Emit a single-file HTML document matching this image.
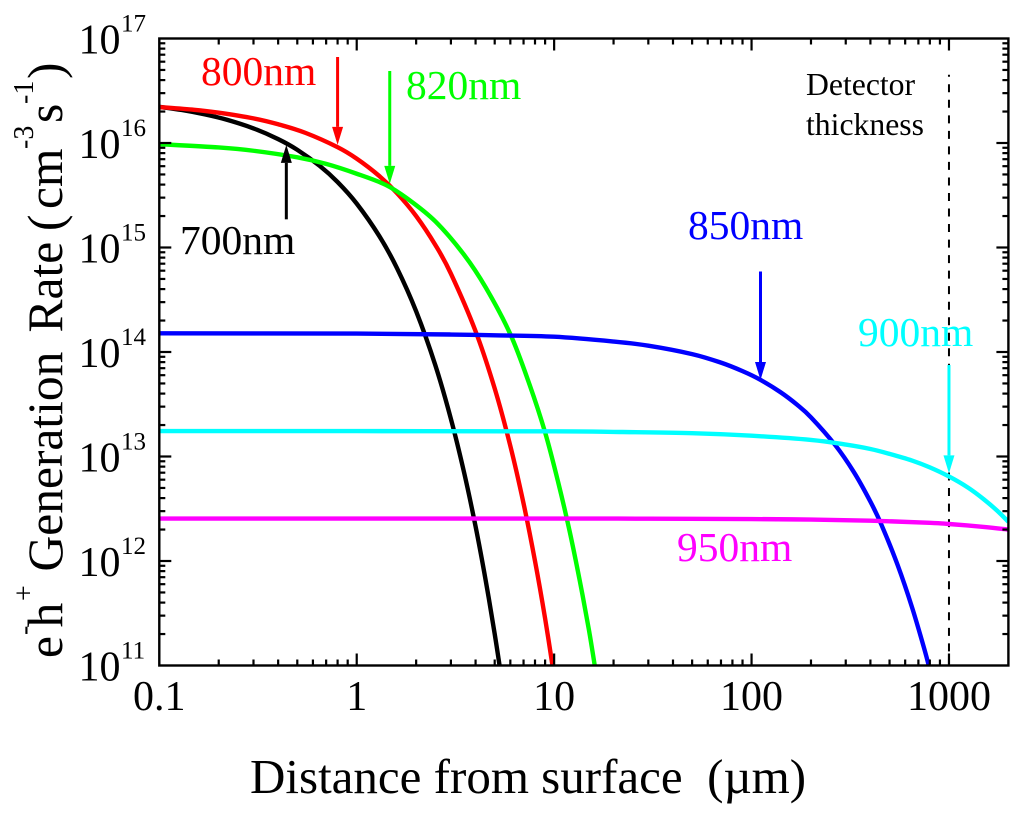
<!DOCTYPE html>
<html lang="en">
<head>
<meta charset="utf-8">
<title>e-h+ Generation Rate vs Distance from Surface</title>
<style>
html,body{margin:0;padding:0;background:#fff;}
svg{display:block;}
text{font-family:"Liberation Serif","DejaVu Serif",serif;fill:#000;}
</style>
</head>
<body>
<svg id="chart" xmlns="http://www.w3.org/2000/svg" width="1024" height="819" viewBox="0 0 1024 819">
  <rect x="0" y="0" width="1024" height="819" fill="#fff"/>
  <defs><clipPath id="plot-clip"><rect x="159.3" y="38.5" width="849.2" height="627"/></clipPath></defs>
  <g id="reference"></g>
  <g id="series" clip-path="url(#plot-clip)"></g>
  <g id="frame"></g>
  <g id="arrows"></g>
  <g id="labels"></g>

  <text x="250" y="793" font-size="49" xml:space="preserve">Distance from surface  (µm)</text>
  <text transform="translate(62,658) rotate(-90)" font-size="49.5" xml:space="preserve"><tspan x="0" y="0">e</tspan><tspan x="23" y="-29" font-size="28">-</tspan><tspan x="30.5" y="0">h</tspan><tspan x="57" y="-29" font-size="28">+</tspan><tspan x="86.5" y="0">Generation</tspan><tspan x="325.5" y="0">Rate</tspan><tspan x="427" y="0">(</tspan><tspan x="449" y="0">cm</tspan><tspan x="509" y="-29" font-size="28">-3</tspan><tspan x="535" y="0">s</tspan><tspan x="554" y="-29" font-size="28">-1</tspan><tspan x="579" y="0">)</tspan></text>

  <text x="201" y="85" font-size="41.5" style="fill:#ff0000">800nm</text>
  <text x="406" y="99" font-size="41.5" style="fill:#00ff00">820nm</text>
  <text x="180" y="254" font-size="41.5" style="fill:#000">700nm</text>
  <text x="688" y="239" font-size="41.5" style="fill:#0000ff">850nm</text>
  <text x="858" y="346" font-size="41.5" style="fill:#00ffff">900nm</text>
  <text x="677" y="561" font-size="41.5" style="fill:#ff00ff">950nm</text>
  <text x="806" y="95" font-size="31.7">Detector</text>
  <text x="806" y="135" font-size="31.7">thickness</text>
</svg>
<script>
// ---- chart data ----
const xTickValues = [0.1, 1, 10, 100, 1000];
const xTickLabels = ["0.1", "1", "10", "100", "1000"];
const yTickValues = [1e11, 1e12, 1e13, 1e14, 1e15, 1e16, 1e17];
const yTickExponents = ["11", "12", "13", "14", "15", "16", "17"];
const xDomain = [0.1, 2000];
const yDomain = [1e11, 1e17];

const x700 = [0.1,0.13,0.17,0.22,0.3,0.4,0.5,0.65,0.8,1,1.3,1.6,2,2.5,3,3.5,4,4.5,5,5.35];
const y700 = [2.22e16,2.07e16,1.88e16,1.67e16,1.38e16,1.09e16,8.61e15,6.03e15,4.23e15,2.63e15,1.29e15,6.34e14,2.45e14,7.5e13,2.29e13,7.0e12,2.14e12,6.53e11,2.0e11,8.7e10];

const x800 = [0.1,0.15,0.2,0.3,0.4,0.55,0.8,1,1.3,1.6,2,2.5,3,4,5,6,7,8,9,10];
const y800 = [2.21e16,2.08e16,1.95e16,1.72e16,1.51e16,1.25e16,9.12e15,7.08e15,4.84e15,3.31e15,2.0e15,1.06e15,5.62e14,1.58e14,4.47e13,1.26e13,3.55e12,1.0e12,2.82e11,7.9e10];

const x820 = [0.1,0.2,0.3,0.5,0.7,1,1.4,1.8,2.5,3.5,4.5,6,7.5,9,10.5,12,13.5,15,16.2];
const y820 = [9.75e15,9.06e15,8.43e15,7.29e15,6.31e15,5.08e15,3.98e15,2.95e15,1.78e15,8.5e14,4.15e14,1.48e14,4.9e13,1.7e13,5.6e12,1.9e12,6.4e11,2.2e11,9.0e10];

const x850 = [0.1,1,3,5,10,20,30,50,70,90,110,140,170,200,265,330,400,455,550,650,750,800];
const y850 = [1.51e14,1.5e14,1.47e14,1.445e14,1.4e14,1.26e14,1.15e14,9.55e13,7.91e13,6.56e13,5.46e13,4.13e13,3.13e13,2.37e13,1.29e13,7.08e12,3.7e12,2.22e12,9.1e11,3.6e11,1.44e11,9.1e10];

const x900 = [0.1,1,10,20,50,100,200,300,400,500,650,800,1000,1250,1500,1750,2000];
const y900 = [1.75e13,1.75e13,1.74e13,1.72e13,1.67e13,1.58e13,1.44e13,1.3e13,1.18e13,1.06e13,9.15e12,7.87e12,6.44e12,5.03e12,3.9e12,3.04e12,2.37e12];

const x950 = [0.1,1,10,30,100,200,400,800,1000,1500,2000];
const y950 = [2.55e12,2.55e12,2.55e12,2.54e12,2.52e12,2.49e12,2.43e12,2.32e12,2.26e12,2.12e12,2.0e12];

const detectorThickness = [1000];
const detectorTop = [4.5e16];

const arrow700 = [0.44, 1.86e15, 9.6e15];
const arrow800 = [0.8, 6.65e16, 9.6e15];
const arrow820 = [1.47, 4.89e16, 4.06e15];
const arrow850 = [111, 5.9e14, 5.4e13];
const arrow900 = [1000, 7.5e13, 6.9e12];

// ---- axis functions ----
const plotLeft = 159.3, plotRight = 1008.4, plotTop = 38.5, plotBottom = 665.5;
function sx(v) {
  return plotLeft + (Math.log10(v) - Math.log10(xDomain[0])) / (Math.log10(xDomain[1]) - Math.log10(xDomain[0])) * (plotRight - plotLeft);
}
function sy(v) {
  return plotBottom - (Math.log10(v) - Math.log10(yDomain[0])) / (Math.log10(yDomain[1]) - Math.log10(yDomain[0])) * (plotBottom - plotTop);
}
const NS = "http://www.w3.org/2000/svg";
function mk(tag, parent, attrs) {
  const el = document.createElementNS(NS, tag);
  for (const k in attrs) el.setAttribute(k, attrs[k]);
  parent.appendChild(el);
  return el;
}

// ---- series ----
function smoothPath(xs, ys) {
  const p = xs.map((x, i) => [sx(x), sy(ys[i])]);
  let d = "M" + p[0][0].toFixed(2) + " " + p[0][1].toFixed(2);
  for (let i = 0; i < p.length - 1; i++) {
    const a = p[Math.max(i - 1, 0)], b = p[i], c = p[i + 1], e = p[Math.min(i + 2, p.length - 1)];
    const c1x = b[0] + (c[0] - a[0]) / 6, c1y = b[1] + (c[1] - a[1]) / 6;
    const c2x = c[0] - (e[0] - b[0]) / 6, c2y = c[1] - (e[1] - b[1]) / 6;
    d += "C" + c1x.toFixed(2) + " " + c1y.toFixed(2) + " " + c2x.toFixed(2) + " " + c2y.toFixed(2) + " " + c[0].toFixed(2) + " " + c[1].toFixed(2);
  }
  return d;
}
const seriesLayer = document.getElementById("series");
function drawSeries(name, xs, ys, color) {
  const el = mk("path", seriesLayer, { d: smoothPath(xs, ys), fill: "none", stroke: color, "stroke-width": 4.4, "stroke-linejoin": "round" });
  
  
}
drawSeries("series-700nm", x700, y700, "#000000");
drawSeries("series-800nm", x800, y800, "#ff0000");
drawSeries("series-820nm", x820, y820, "#00ff00");
drawSeries("series-850nm", x850, y850, "#0000ff");
drawSeries("series-900nm", x900, y900, "#00ffff");
drawSeries("series-950nm", x950, y950, "#ff00ff");

// ---- detector thickness line ----
const refLayer = document.getElementById("reference");
const detLine = mk("line", refLayer, { x1: sx(detectorThickness[0]), x2: sx(detectorThickness[0]), y1: sy(detectorTop[0]), y2: plotBottom, stroke: "#000", "stroke-width": 2, "stroke-dasharray": "8 7.53", "stroke-dashoffset": 6 });



// ---- frame and ticks ----
const frameLayer = document.getElementById("frame");
const frame = mk("rect", frameLayer, { x: plotLeft, y: plotTop, width: plotRight - plotLeft, height: plotBottom - plotTop, fill: "none", stroke: "#000", "stroke-width": 2.4 });



function tick(name, x1, y1, x2, y2) {
  const el = mk("line", frameLayer, { x1: x1, y1: y1, x2: x2, y2: y2, stroke: "#000", "stroke-width": 2.2 });
  
  
}
const multipliers = [2, 3, 4, 5, 6, 7, 8, 9];
xTickValues.forEach(function (v) {
  if (v !== xDomain[0]) {
    tick("x-major-tick", sx(v), plotBottom, sx(v), plotBottom - 12);
    tick("x-major-tick-top", sx(v), plotTop, sx(v), plotTop + 12);
  }
  multipliers.forEach(function (m) {
    const mv = v * m;
    if (mv < xDomain[1]) {
      tick("x-minor-tick", sx(mv), plotBottom, sx(mv), plotBottom - 6);
      tick("x-minor-tick-top", sx(mv), plotTop, sx(mv), plotTop + 6);
    }
  });
});
yTickValues.forEach(function (v) {
  if (v !== yDomain[0] && v !== yDomain[1]) {
    tick("y-major-tick", plotLeft, sy(v), plotLeft + 12, sy(v));
    tick("y-major-tick-right", plotRight, sy(v), plotRight - 12, sy(v));
  }
  if (v < yDomain[1]) {
    multipliers.forEach(function (m) {
      const mv = v * m;
      tick("y-minor-tick", plotLeft, sy(mv), plotLeft + 6, sy(mv));
      tick("y-minor-tick-right", plotRight, sy(mv), plotRight - 6, sy(mv));
    });
  }
});

// ---- tick labels ----
const labelLayer = document.getElementById("labels");
xTickValues.forEach(function (v, i) {
  const t = mk("text", labelLayer, { x: sx(v), y: 710, "font-size": 42, "text-anchor": "middle" });
  t.textContent = xTickLabels[i];
  
  
});
yTickValues.forEach(function (v, i) {
  const base = mk("text", labelLayer, { x: 78.5, y: sy(v) + 15, "font-size": 42 });
  base.textContent = "10";
  
  
  const sup = mk("text", labelLayer, { x: 121, y: sy(v) - 7, "font-size": 25 });
  sup.textContent = yTickExponents[i];
  
  
});

// ---- arrows ----
const arrowLayer = document.getElementById("arrows");
function drawArrow(name, spec, color) {
  const x = sx(spec[0]), from = sy(spec[1]), to = sy(spec[2]);
  const dir = to > from ? 1 : -1;
  const headLen = 18, headHalf = 5.5;
  const shaft = mk("line", arrowLayer, { x1: x, y1: from, x2: x, y2: to - dir * headLen, stroke: color, "stroke-width": 3 });
  
  
  const head = mk("polygon", arrowLayer, {
    points: x + "," + to + " " + (x - headHalf) + "," + (to - dir * headLen) + " " + (x + headHalf) + "," + (to - dir * headLen),
    fill: color
  });
  
  
}
drawArrow("arrow-700nm", arrow700, "#000000");
drawArrow("arrow-800nm", arrow800, "#ff0000");
drawArrow("arrow-820nm", arrow820, "#00ff00");
drawArrow("arrow-850nm", arrow850, "#0000ff");
drawArrow("arrow-900nm", arrow900, "#00ffff");
</script>
</body>
</html>
